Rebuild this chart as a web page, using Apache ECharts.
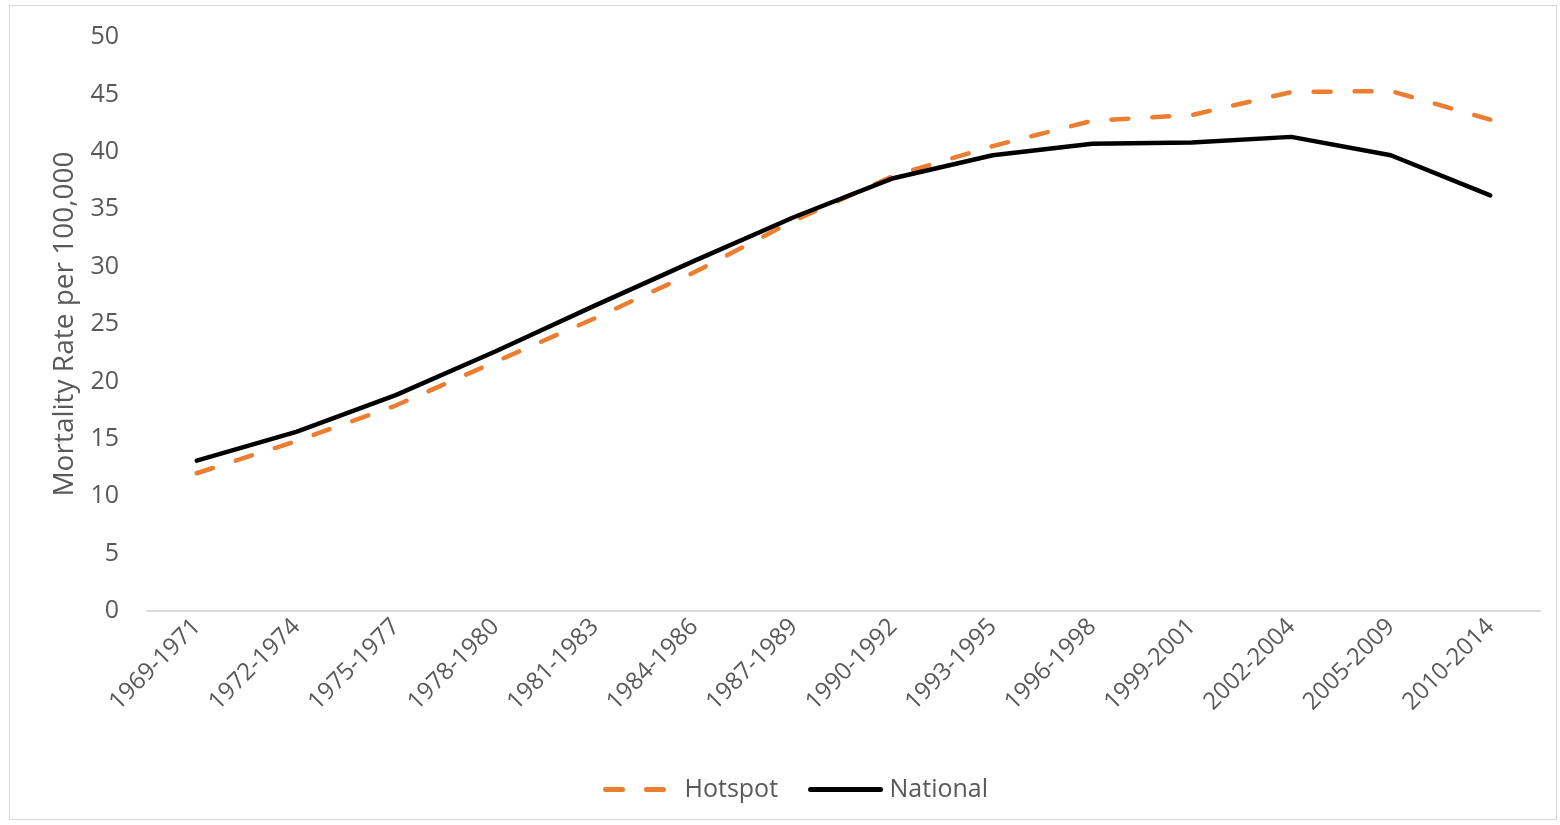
<!DOCTYPE html>
<html>
<head>
<meta charset="utf-8">
<style>
  html, body { margin: 0; padding: 0; background: #fff; }
  #chart { width: 1560px; height: 825px; box-sizing: border-box; }
  #frame { position: absolute; left: 9px; top: 5px; width: 1548px; height: 815px; border: 1px solid #d9d9d9; box-sizing: border-box; pointer-events: none; }
</style>
<script src="https://cdn.jsdelivr.net/npm/echarts@6/dist/echarts.min.js"></script>
</head>
<body>
<div id="chart"></div>
<div id="frame"></div>
<script>
// Periods of the mortality series
const periods = ['1969-1971','1972-1974','1975-1977','1978-1980','1981-1983','1984-1986','1987-1989',
                 '1990-1992','1993-1995','1996-1998','1999-2001','2002-2004','2005-2009','2010-2014'];
// Mortality rate per 100,000
const hotspot  = [12.0, 14.8, 17.9, 21.7, 25.5, 29.5, 34.0, 37.9, 40.5, 42.7, 43.2, 45.2, 45.3, 42.8];
const national = [13.1, 15.6, 18.8, 22.6, 26.6, 30.5, 34.3, 37.7, 39.7, 40.7, 40.8, 41.3, 39.7, 36.2];
const yTicks = { min: 0, max: 50, interval: 5 };

const font = 'Open Sans';
const chart = echarts.init(document.getElementById('chart'), null, { renderer: 'canvas' });
chart.setOption({
  animation: false,
  backgroundColor: '#ffffff',
  textStyle: { fontFamily: font },
  grid: { left: 147, right: 20, top: 37, bottom: 214, containLabel: false },
  legend: {
    bottom: 18,
    left: 598,
    itemWidth: 70,
    itemHeight: 14,
    itemGap: 30,
    itemStyle: { opacity: 0 },
    lineStyle: { width: 5 },
    textStyle: { color: '#595959', fontSize: 25, fontFamily: font, padding: [0, 0, 0, 4] },
    data: ['Hotspot', 'National']
  },
  xAxis: {
    type: 'category',
    data: periods,
    boundaryGap: true,
    axisLine: { show: true, lineStyle: { color: '#d9d9d9', width: 2 } },
    axisTick: { show: false },
    axisLabel: { rotate: 45, color: '#595959', fontSize: 24, margin: 12, fontFamily: font, interval: 0 },
    splitLine: { show: false }
  },
  yAxis: {
    type: 'value',
    min: yTicks.min,
    max: yTicks.max,
    interval: yTicks.interval,
    name: 'Mortality Rate per 100,000',
    nameLocation: 'middle',
    nameGap: 62,
    nameTextStyle: { color: '#595959', fontSize: 28, fontFamily: font },
    axisLine: { show: false },
    axisTick: { show: false },
    axisLabel: { color: '#595959', fontSize: 25, margin: 28, fontFamily: font },
    splitLine: { show: false }
  },
  series: [
    {
      name: 'Hotspot',
      type: 'line',
      data: hotspot,
      symbol: 'none',
      color: '#ed7d31',
      lineStyle: { color: '#ed7d31', width: 4.5, type: [17, 24], cap: 'round', join: 'round' },
      z: 2
    },
    {
      name: 'National',
      type: 'line',
      data: national,
      symbol: 'none',
      color: '#000000',
      lineStyle: { color: '#000000', width: 4.5, cap: 'round', join: 'round' },
      z: 3
    }
  ]
});
</script>
</body>
</html>
